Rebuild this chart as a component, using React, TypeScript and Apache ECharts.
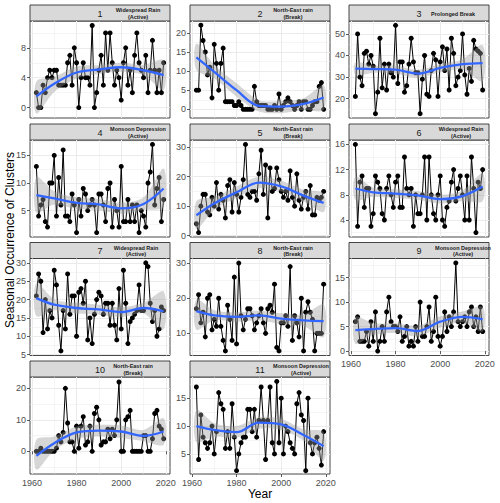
import { useEffect, useRef } from "react";
import * as echarts from "echarts";

// ---------- data ----------
const YEARS = [
  1962, 1963, 1964, 1965, 1966, 1967, 1968, 1969, 1970, 1971,
  1972, 1973, 1974, 1975, 1976, 1977, 1978, 1979, 1980, 1981,
  1982, 1983, 1984, 1985, 1986, 1987, 1988, 1989, 1990, 1991,
  1992, 1993, 1994, 1995, 1996, 1997, 1998, 1999, 2000, 2001,
  2002, 2003, 2004, 2005, 2006, 2007, 2008, 2009, 2010, 2011,
  2012, 2013, 2014, 2015, 2016, 2017, 2018, 2019,
];
const X_MAJOR = [1960, 1980, 2000, 2020];
const X_MINOR = [1970, 1990, 2010];
const KNOTS = [1962, 1970, 1980, 1990, 2000, 2010, 2019];

const C1 = [2,0,0,3,2,4,5,4,5,5, 3,3,3,3,6,7,3,8,6,0, 4,6,4,4,3,11,0,2,5,7, 3,10,5,10,6,3,5,4,1,6, 8,3,5,2,7,10,6,5,4,7, 2,5,9,5,2,5,2,6];
const C2 = [5,5,22,18,15,9,11,3,17,12, 5,12,16,2,2,2,2,1,1,2, 1,0,0,0,0,0,6,2,1,1, 1,1,0,0,0,1,0,4,0,1, 2,3,2,1,0,1,2,0,2,2, 0,0,1,2,2,6,7,0];
const C3 = [21,50,30,26,41,42,36,40,35,13, 23,48,25,36,24,36,32,30,54,27, 37,37,23,26,36,48,37,32,32,13, 29,40,22,21,33,41,38,21,37,44, 33,43,24,48,41,26,30,33,50,31, 22,34,28,47,43,42,41,24];
const C4 = [13,4,6,7,3,2,10,10,15,4, 11,6,16,4,4,3,8,6,1,7, 4,9,8,5,6,7,6,1,8,8, 6,3,9,10,2,7,5,2,13,3, 3,7,3,6,3,6,1,5,4,2, 10,12,17,6,9,11,3,7];
const C5 = [4,1,10,14,14,8,7,13,10,18, 9,14,12,6,17,19,8,18,14,8, 13,19,31,14,13,15,15,12,21,29, 14,24,6,23,15,16,23,19,15,13, 15,12,22,13,10,21,12,9,13,15, 9,17,7,7,13,12,13,15];
const C6 = [16,3,10,11,6,9,9,3,5,11, 10,9,5,4,9,11,8,6,10,11, 6,6,14,9,8,9,3,8,5,5, 8,14,4,14,8,5,4,8,11,4, 3,6,7,10,12,7,9,11,8,4, 11,4,14,9,2,10,9,12];
const C7 = [21,27,25,11,20,12,17,15,28,24, 13,6,17,12,27,16,21,21,10,22, 23,19,25,9,15,8,16,20,22,21, 16,19,19,13,19,13,9,23,12,28, 19,8,14,15,16,17,24,17,17,30, 29,19,14,17,10,12,18,17];
const C8 = [17,21,13,16,9,20,21,11,14,12, 20,12,8,5,18,14,8,26,7,30, 15,11,14,17,17,15,11,13,15,17, 13,10,17,18,16,24,6,5,13,13, 15,12,29,8,15,13,9,20,5,16, 19,16,14,5,10,10,10,24];
const C9 = [6,7,2,2,2,4,1,6,2,8, 0,2,5,2,8,11,6,5,5,4, 7,2,3,5,1,2,1,5,2,10, 3,3,5,9,2,4,11,3,1,3, 8,4,7,5,8,18,6,5,6,7, 5,8,9,5,7,4,9,4];
const C10 = [0,0,1,0,0,0,0,0,0,1, 5,3,6,20,9,3,3,0,8,1, 8,11,2,3,8,0,12,14,10,2, 3,3,7,4,7,5,10,22,0,0, 10,11,13,0,0,0,0,0,5,5, 0,0,4,12,13,8,7,4];
const C11 = [17,4,12,8,7,6,7,10,5,9, 16,14,13,6,9,6,14,8,2,5, 7,8,8,13,13,9,13,8,11,17, 11,4,11,17,7,5,18,7,15,5, 10,9,7,6,5,14,16,12,11,2, 15,7,5,7,8,6,3,9];

// smooth fit (read at KNOTS) and its confidence band
const FIT1 = [1.5, 3.2, 4.7, 5.1, 5.4, 5.0, 4.35];
const LO1 = [-0.8, 2.1, 3.9, 4.5, 4.8, 4.35, 2.35];
const HI1 = [3.5, 4.1, 5.5, 5.7, 6.0, 5.7, 6.35];
const FIT2 = [13.6, 9.8, 5.0, 0.9, 0.7, 1.4, 3.1];
const LO2 = [10.3, 8.1, 3.3, -0.6, -1.0, -0.2, -0.2];
const HI2 = [17.2, 11.6, 6.8, 2.4, 2.2, 2.9, 6.3];
const FIT3 = [33.9, 33.7, 33.4, 31.6, 34.2, 36.0, 36.5];
const LO3 = [31.1, 31.9, 31.6, 29.6, 32.2, 33.4, 28.1];
const HI3 = [36.8, 35.4, 35.2, 33.4, 36.1, 38.3, 44.8];
const FIT4 = [7.8, 7.2, 6.4, 6.1, 5.4, 6.2, 9.0];
const LO4 = [4.6, 6.1, 5.3, 5.1, 4.4, 5.1, 5.7];
const HI4 = [11.1, 8.5, 7.4, 7.1, 6.4, 7.4, 12.6];
const FIT5 = [6.9, 10.9, 14.7, 18.0, 16.7, 13.6, 11.1];
const LO5 = [2.2, 8.7, 12.8, 16.1, 15.0, 11.7, 8.0];
const HI5 = [11.7, 13.1, 16.7, 20.0, 18.6, 15.6, 14.4];
const FIT6 = [9.0, 8.4, 8.2, 7.9, 7.3, 7.8, 9.3];
const LO6 = [7.2, 7.7, 7.5, 7.2, 6.6, 7.0, 7.0];
const HI6 = [10.9, 9.1, 8.9, 8.6, 8.0, 8.7, 11.4];
const FIT7 = [20.4, 18.6, 17.7, 17.3, 16.6, 17.7, 16.8];
const LO7 = [15.5, 17.1, 16.2, 15.9, 15.2, 16.2, 11.9];
const HI7 = [24.5, 20.1, 19.1, 18.6, 17.9, 19.1, 22.2];
const FIT8 = [16.3, 15.1, 14.7, 15.1, 14.2, 13.7, 13.5];
const LO8 = [11.0, 13.7, 13.3, 13.7, 12.6, 12.1, 8.9];
const HI8 = [19.6, 16.6, 16.0, 16.5, 15.7, 15.3, 18.2];
const FIT9 = [4.3, 4.5, 4.7, 4.1, 6.0, 7.0, 6.5];
const LO9 = [1.5, 3.3, 3.7, 3.0, 4.8, 5.9, 4.0];
const HI9 = [7.0, 5.7, 5.7, 5.2, 7.1, 8.1, 9.0];
const FIT10 = [-1.4, 2.6, 6.0, 6.6, 6.3, 4.9, 6.3];
const LO10 = [-5.8, 0.3, 3.9, 4.7, 4.2, 3.2, 2.1];
const HI10 = [3.7, 4.7, 7.9, 8.4, 8.2, 6.8, 10.5];
const FIT11 = [10.0, 9.3, 8.9, 10.6, 10.3, 8.4, 6.4];
const LO11 = [7.1, 8.1, 7.9, 9.5, 9.3, 7.4, 3.8];
const HI11 = [12.9, 10.5, 10.0, 11.6, 11.3, 9.4, 8.9];

// y tick labels
const Y1 = [0, 4, 8];
const Y2 = [0, 5, 10, 15, 20];
const Y3 = [20, 30, 40, 50];
const Y4 = [5, 10, 15];
const Y5 = [0, 10, 20, 30];
const Y6 = [4, 8, 12, 16];
const Y7 = [5, 10, 15, 20, 25, 30];
const Y8 = [10, 20, 30];
const Y9 = [0, 5, 10, 15];
const Y10 = [0, 10, 20];
const Y11 = [5, 10, 15];

const Y1m = [2, 6, 10];
const Y2m = [2.5, 7.5, 12.5, 17.5, 22.5];
const Y3m = [15, 25, 35, 45, 55];
const Y4m = [2.5, 7.5, 12.5, 17.5];
const Y5m = [5, 15, 25];
const Y6m = [2, 6, 10, 14];
const Y7m = [7.5, 12.5, 17.5, 22.5, 27.5];
const Y8m = [5, 15, 25];
const Y9m = [2.5, 7.5, 12.5, 17.5];
const Y10m = [-5, 5, 15];
const Y11m = [2.5, 7.5, 12.5, 17.5];

const TITLES = [
  ["Widespread Rain", "(Active)"],
  ["North-East rain", "(Break)"],
  ["Prolonged Break"],
  ["Monsoon Depression", "(Active)"],
  ["North-East rain", "(Break)"],
  ["Widespread Rain", "(Active)"],
  ["Widespread Rain", "(Active)"],
  ["North-East rain", "(Break)"],
  ["Monsoon Depression", "(Active)"],
  ["North-East rain", "(Break)"],
  ["Monsoon Depression", "(Active)"],
];

// ---------- layout ----------
const FONT = "'Liberation Sans', Arial, Helvetica, sans-serif";
const X_MIN = 1959.15;
const X_MAX = 2021.85;
const COL_LEFT = [30, 190, 349];
const PANEL_W = 140;
const STRIP_TOP = [5, 124, 242.5, 361];
const STRIP_H = 16;
const PANEL_H = 97;

const PANELS = [
  { v: C1, fit: FIT1, lo: LO1, hi: HI1, ticks: Y1, minor: Y1m, min: -1.4, max: 11.6, labOff: 38 },
  { v: C2, fit: FIT2, lo: LO2, hi: HI2, ticks: Y2, minor: Y2m, min: -2.27, max: 23.1, labOff: 33 },
  { v: C3, fit: FIT3, lo: LO3, hi: HI3, ticks: Y3, minor: Y3m, min: 11, max: 56, labOff: 34 },
  { v: C4, fit: FIT4, lo: LO4, hi: HI4, ticks: Y4, minor: Y4m, min: 0.2, max: 17.8, labOff: 38 },
  { v: C5, fit: FIT5, lo: LO5, hi: HI5, ticks: Y5, minor: Y5m, min: -0.5, max: 32.5, labOff: 33 },
  { v: C6, fit: FIT6, lo: LO6, hi: HI6, ticks: Y6, minor: Y6m, min: 1.3, max: 16.7, labOff: 42 },
  { v: C7, fit: FIT7, lo: LO7, hi: HI7, ticks: Y7, minor: Y7m, min: 4.75, max: 31.2, labOff: 36 },
  { v: C8, fit: FIT8, lo: LO8, hi: HI8, ticks: Y8, minor: Y8m, min: 3.7, max: 31.3, labOff: 33 },
  { v: C9, fit: FIT9, lo: LO9, hi: HI9, ticks: Y9, minor: Y9m, min: -0.9, max: 18.9, labOff: 44 },
  { v: C10, fit: FIT10, lo: LO10, hi: HI10, ticks: Y10, minor: Y10m, min: -7.2, max: 23.6, labOff: 33 },
  { v: C11, fit: FIT11, lo: LO11, hi: HI11, ticks: Y11, minor: Y11m, min: 1.4, max: 18.8, labOff: 41 },
];
const SHOW_X = [8, 9, 10];
const fmt = (v: number) => String(v);

function buildOption() {
  const grid: any[] = [];
  const xAxis: any[] = [];
  const yAxis: any[] = [];
  const series: any[] = [];
  const graphic: any[] = [];

  PANELS.forEach((p, i) => {
    const col = i % 3;
    const row = Math.floor(i / 3);
    const left = COL_LEFT[col];
    const stripTop = STRIP_TOP[row];
    const top = stripTop + STRIP_H;
    const showX = SHOW_X.includes(i);

    grid.push({
      left, top, width: PANEL_W, height: PANEL_H,
      show: true, backgroundColor: "#FFFFFF", borderColor: "#333333", borderWidth: 0.9,
      containLabel: false,
    });

    xAxis.push({
      gridIndex: i, type: "value", min: X_MIN, max: X_MAX, position: "bottom",
      axisLine: { show: false },
      axisTick: { show: showX, customValues: X_MAJOR, length: 3, lineStyle: { color: "#333333", width: 0.8 } },
      axisLabel: { show: showX, customValues: X_MAJOR, formatter: fmt, color: "#4D4D4D", fontSize: 9, margin: 4, fontFamily: FONT },
      splitLine: { show: true, lineStyle: { color: "#EBEBEB", width: 1 } },
    });
    xAxis.push({
      gridIndex: i, type: "value", min: X_MIN, max: X_MAX, position: "bottom",
      axisLine: { show: false },
      axisTick: { show: false, customValues: X_MINOR },
      axisLabel: { show: false, customValues: X_MINOR },
      splitLine: { show: true, lineStyle: { color: "#EBEBEB", width: 0.5 } },
    });
    yAxis.push({
      gridIndex: i, type: "value", min: p.min, max: p.max, position: "left",
      axisLine: { show: false },
      axisTick: { show: true, customValues: p.ticks, length: 3, lineStyle: { color: "#333333", width: 0.8 } },
      axisLabel: { show: true, customValues: p.ticks, formatter: fmt, color: "#4D4D4D", fontSize: 9, margin: 4, fontFamily: FONT },
      splitLine: { show: true, lineStyle: { color: "#EBEBEB", width: 1 } },
    });
    yAxis.push({
      gridIndex: i, type: "value", min: p.min, max: p.max, position: "left",
      axisLine: { show: false },
      axisTick: { show: false, customValues: p.minor },
      axisLabel: { show: false, customValues: p.minor },
      splitLine: { show: true, lineStyle: { color: "#EBEBEB", width: 0.5 } },
    });

    const xi = 2 * i;
    series.push({
      type: "line", xAxisIndex: xi, yAxisIndex: xi, silent: true, z: 2,
      data: YEARS.map((y, j) => [y, p.v[j]]),
      symbol: "circle", symbolSize: 5, showSymbol: true,
      lineStyle: { color: "#000000", width: 1 },
      itemStyle: { color: "#000000" },
    });
    series.push({
      type: "custom", xAxisIndex: xi, yAxisIndex: xi, silent: true, z: 3, clip: false,
      coordinateSystem: "cartesian2d",
      data: [[KNOTS[0], p.fit[0]]],
      renderItem: (_params: any, api: any) => {
        const up = KNOTS.map((k, j) => api.coord([k, p.hi[j]]));
        const dn = KNOTS.map((k, j) => api.coord([k, p.lo[j]])).reverse();
        return {
          type: "polygon",
          shape: { points: up.concat(dn), smooth: 0.3 },
          style: { fill: "rgba(153,153,153,0.4)", stroke: "none" },
        };
      },
    });
    series.push({
      type: "line", xAxisIndex: xi, yAxisIndex: xi, silent: true, z: 4,
      data: KNOTS.map((k, j) => [k, p.fit[j]]),
      smooth: 0.35, symbol: "none",
      lineStyle: { color: "#3366FF", width: 2.3 },
    });

    // strip
    graphic.push({
      type: "rect", silent: true,
      shape: { x: left, y: stripTop, width: PANEL_W, height: STRIP_H },
      style: { fill: "#D9D9D9", stroke: "#333333", lineWidth: 0.9 },
    });
    graphic.push({
      type: "text", silent: true, x: left + PANEL_W / 2, y: stripTop + STRIP_H / 2 + 0.5,
      style: { text: String(i + 1), fontSize: 9, fill: "#1A1A1A", align: "center", verticalAlign: "middle", fontFamily: FONT },
    });
    graphic.push({
      type: "text", silent: true, x: left + PANEL_W / 2 + p.labOff, y: stripTop + STRIP_H / 2 + 0.5,
      style: {
        text: TITLES[i].join("\n"), fontSize: 5.5, fontWeight: "bold", lineHeight: 6.5,
        fill: "#1A1A1A", align: "center", verticalAlign: "middle", fontFamily: FONT,
      },
    });
  });

  graphic.push({
    type: "text", silent: true, x: 260, y: 494,
    style: { text: "Year", fontSize: 12, fill: "#000000", align: "center", verticalAlign: "middle", fontFamily: FONT },
  });
  graphic.push({
    type: "text", silent: true, x: 10, y: 240, rotation: Math.PI / 2,
    style: { text: "Seasonal Occurrence of Clusters", fontSize: 12, fill: "#000000", align: "center", verticalAlign: "middle", fontFamily: FONT },
  });

  return {
    animation: false,
    backgroundColor: "#FFFFFF",
    grid, xAxis, yAxis, series, graphic,
  };
}

export default function App() {
  const ref = useRef<HTMLDivElement>(null);
  useEffect(() => {
    const chart = echarts.init(ref.current!, null, { renderer: "svg" });
    chart.setOption(buildOption() as any);
    return () => chart.dispose();
  }, []);
  return (
    <div
      ref={ref}
      style={{ position: "absolute", left: 0, top: 0, width: 500, height: 503 }}
    />
  );
}
